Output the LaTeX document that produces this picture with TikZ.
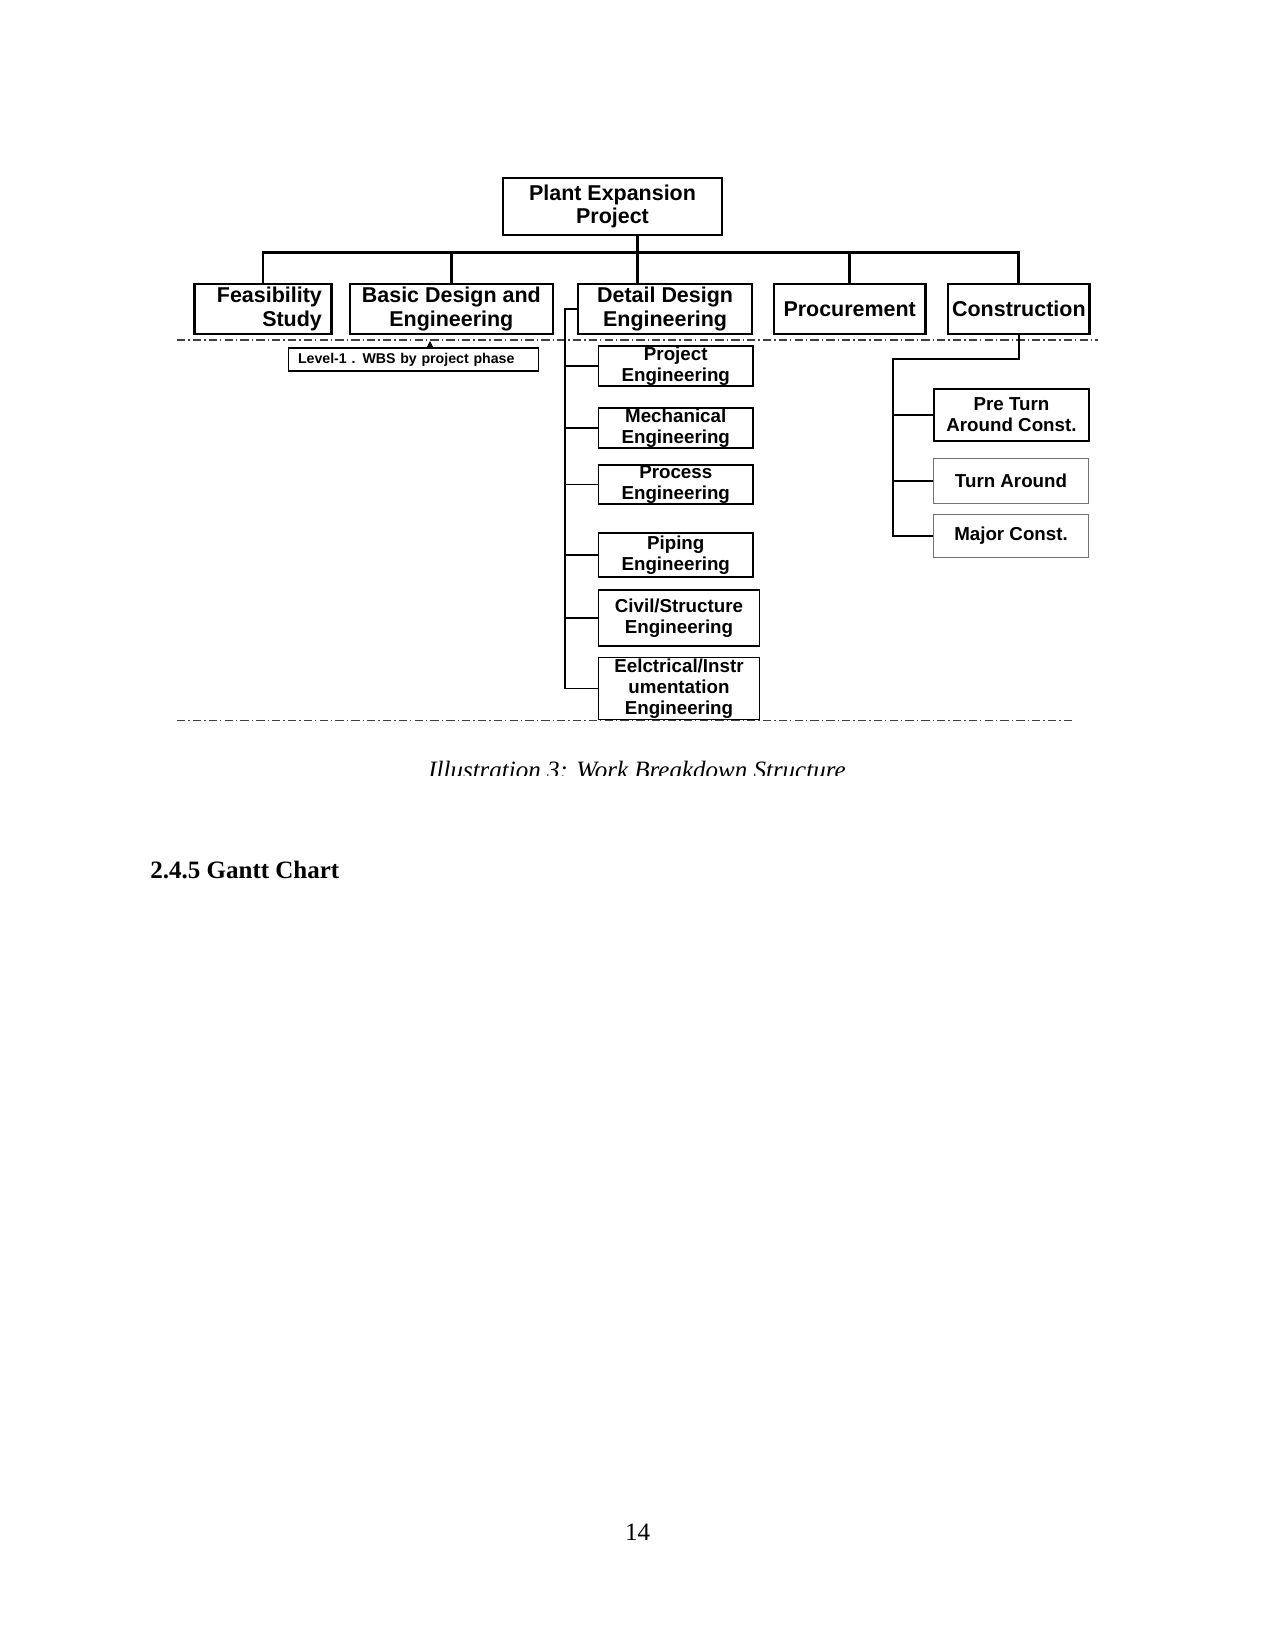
\documentclass[tikz,border=0pt]{standalone}
\usepackage{fontspec}
\setmainfont{Liberation Serif}
\setsansfont{Liberation Sans}
\usepackage{tikz}
\usetikzlibrary{arrows.meta,positioning}
\tikzset{
  wbsbox/.style={
    rectangle,
    draw=black,
    line width=1.1pt,
    align=center,
    inner xsep=1pt,
    inner ysep=0pt,
    font=\sffamily\bfseries\fontsize{10.3}{11.1}\selectfont
  },
  phasebox/.style={
    wbsbox,
    minimum height=24.2pt
  },
  taskbox/.style={
    rectangle,
    draw=black,
    line width=0.9pt,
    align=center,
    anchor=west,
    inner xsep=1pt,
    inner ysep=0pt,
    font=\sffamily\bfseries\fontsize{9}{10.2}\selectfont
  },
  thinbox/.style={
    taskbox,
    draw=black!55,
    line width=0.5pt
  },
  notebox/.style={
    rectangle,
    draw=black,
    line width=0.6pt,
    anchor=west,
    align=left,
    text width=111pt,
    inner xsep=4.5pt,
    inner ysep=0pt,
    minimum height=11pt,
    font=\sffamily\bfseries\fontsize{6.8}{7.5}\selectfont
  },
  busline/.style={line width=1.4pt},
  branchline/.style={line width=0.8pt},
  phaseline/.style={
    draw=black!75,
    line width=0.5pt,
    dash pattern=on 4pt off 1.5pt on 0.6pt off 1.5pt
  },
  notearrow/.style={
    -{Triangle[length=3.5pt,width=3.5pt]},
    line width=0.4pt
  }
}

\begin{document}
\begin{tikzpicture}[x=0.48pt, y=-0.48pt]
\useasboundingbox (0,0) rectangle (1275,1650);

% top of the tree
\node[wbsbox, minimum width=105pt, minimum height=27.4pt] (root) at (612.5,206.5) {Plant Expansion\\Project};

% level 1, by project phase
\node[phasebox, minimum width=65.7pt, text width=56.5pt, align=right, inner xsep=4.5pt] (feas) at (263,309) {Feasibility\\Study};
\node[phasebox, minimum width=97.5pt, right=7.7pt of feas] (basic) {Basic Design and\\Engineering};
\node[phasebox, minimum width=83.3pt, right=11.1pt of basic] (detail) {Detail Design\\Engineering};
\node[phasebox, minimum width=72.9pt, right=9.4pt of detail] (procure) {Procurement};
\node[phasebox, minimum width=67.7pt, right=9.8pt of procure] (constr) {Construction};

\coordinate (hub) at (637.5,252.5);
\draw[busline] (hub) -- (hub |- root.south);
\draw[busline] (feas.north) -- (feas.north |- hub) -- (constr.north |- hub) -- (constr.north);
\draw[busline] (basic.north) -- (basic.north |- hub);
\draw[busline] (hub) -- (hub |- detail.north);
\draw[busline] (procure.north) -- (procure.north |- hub);

% level separators
\draw[phaseline] (177,340) -- (1098,340);
\draw[phaseline] (177,720.5) -- (1073,720.5);

\node[notebox] (lvlnote) at (288,359.5) {Level-1 . WBS by project phase};
\coordinate (notetip) at (430,341);
\draw[notearrow] (notetip |- lvlnote.north) -- (notetip);

% detail design engineering
\node[taskbox, minimum width=74.2pt, minimum height=19.2pt] (projeng) at (597.5,366) {Project\\Engineering};
\node[taskbox, minimum width=74.2pt, minimum height=19.2pt] (mecheng) at (597.5,428) {Mechanical\\Engineering};
\node[taskbox, minimum width=74.2pt, minimum height=18.7pt] (proceng) at (597.5,484.5) {Process\\Engineering};
\node[taskbox, minimum width=74.2pt, minimum height=20.9pt] (pipeeng) at (597.5,555) {Piping\\Engineering};
\node[taskbox, minimum width=77.3pt, minimum height=26.9pt] (civileng) at (597.5,618) {Civil/Structure\\Engineering};
\node[taskbox, minimum width=77.3pt, minimum height=29.8pt] (eleceng) at (597.5,688.5) {Eelctrical/Instr\\umentation\\Engineering};

\coordinate (dspine) at (565,309);
\draw[branchline] (detail.west) -- (dspine) -- (dspine |- eleceng.west) -- (eleceng.west);
\foreach \sub in {projeng,mecheng,proceng,pipeeng,civileng}
  \draw[branchline] (\sub.west) -- (\sub.west -| dspine);

% construction
\node[taskbox, minimum width=74.4pt, minimum height=25pt] (preta) at (933,415) {Pre Turn\\Around Const.};
\node[thinbox, minimum width=74.4pt, minimum height=21.4pt] (turnar) at (933,481) {Turn Around};
\node[thinbox, minimum width=74.4pt, minimum height=20.9pt] (majorc) at (933,536) {Major Const.};

\coordinate (cturn) at (893,359);
\draw[branchline] (constr.south) |- (cturn) -- (cturn |- majorc.west) -- (majorc.west);
\draw[branchline] (preta.west) -- (preta.west -| cturn);
\draw[branchline] (turnar.west) -- (turnar.west -| cturn);

% caption, cut at the foot of the figure
\begin{scope}
  \clip (0,740) rectangle (1275,775);
  \node[anchor=base, font=\itshape\fontsize{12}{14}\selectfont] (caption) at (637,778) {Illustration 3: Work Breakdown Structure};
\end{scope}

\node[anchor=base west, font=\bfseries\fontsize{12}{14}\selectfont, inner sep=0pt] (heading) at (150,878) {2.4.5 Gantt Chart};
\node[anchor=base, font=\fontsize{12}{14}\selectfont, inner sep=0pt] (pageno) at (637.5,1540) {14};
\end{tikzpicture}
\end{document}
